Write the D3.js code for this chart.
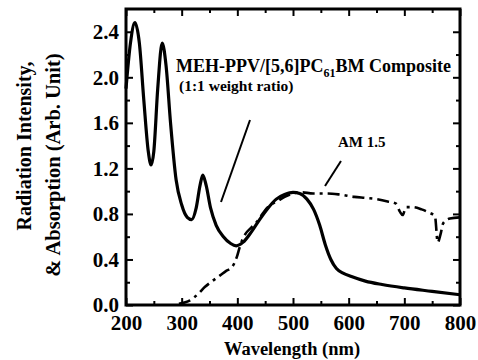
<!DOCTYPE html>
<html><head><meta charset="utf-8">
<script src="https://cdn.jsdelivr.net/npm/d3@7"></script>
<style>body{margin:0;background:#fff}svg{display:block}text{font-family:"Liberation Serif","Times New Roman",serif;font-weight:bold;fill:#000}</style>
</head><body><svg id="c" width="478" height="360"></svg>
<script>
const absWl  = [200,208,216,224,232,240,245,250,257,265,272,280,290,300,310,318,326,333,338,344,352,362,375,388,398,410,425,440,455,470,485,500,512,525,537,548,558,568,578,590,605,630,660,700,750,800];
const absVal = [1.9,2.3,2.48,2.3,1.8,1.35,1.23,1.35,1.9,2.3,2.1,1.6,1.1,0.88,0.77,0.75,0.85,1.05,1.14,1.05,0.85,0.7,0.6,0.54,0.52,0.55,0.64,0.75,0.85,0.93,0.97,0.99,0.98,0.93,0.84,0.7,0.53,0.4,0.32,0.28,0.25,0.21,0.18,0.15,0.12,0.09];
const amWl  = [295,315,330,342,355,369,380,390,399,405,414,425,435,445,453,463,471,485,500,515,536,560,584,610,632,650,670,685,692,697,703,715,731,745,755,760,765,770,782,800];
const amVal = [0.01,0.04,0.1,0.16,0.21,0.26,0.3,0.33,0.42,0.52,0.62,0.68,0.73,0.8,0.85,0.89,0.91,0.95,0.98,0.99,0.98,0.98,0.97,0.95,0.94,0.93,0.91,0.89,0.82,0.79,0.86,0.86,0.84,0.81,0.78,0.55,0.62,0.72,0.76,0.77];
const xTicks = [200,300,400,500,600,700,800];
const yTicks = [0.0,0.4,0.8,1.2,1.6,2.0,2.4];

const svg = d3.select("#c");
const L=126,R=460,T=9,B=305;
const x = d3.scaleLinear().domain([200,800]).range([L,R]);
const y = d3.scaleLinear().domain([0,2.6]).range([B,T]);

const g = svg.append("g");
const line = d3.line().x(d=>x(d[0])).y(d=>y(d[1])).curve(d3.curveMonotoneX);
g.append("path").datum(d3.zip(amWl,amVal)).attr("d",line)
 .attr("fill","none").attr("stroke","#000").attr("stroke-width",2.6)
 .attr("stroke-dasharray","12,5,3,5");
g.append("path").datum(d3.zip(absWl,absVal)).attr("d",line)
 .attr("fill","none").attr("stroke","#000").attr("stroke-width",3.2).attr("stroke-linejoin","round");

function ax(axisGen, tr){
  const a = svg.append("g").attr("transform",tr).call(axisGen);
  a.select(".domain").remove();
  a.selectAll("line").attr("stroke","#000").attr("stroke-width",2);
  return a;
}
const minorX = d3.range(250,800,100), minorY = d3.range(0.2,2.6,0.4);
const bx = ax(d3.axisBottom(x).tickValues(xTicks).tickSize(-7).tickPadding(10).tickFormat(d3.format("d")),`translate(0,${B})`);
bx.selectAll("text").attr("font-size",21).attr("dy","0.71em");
ax(d3.axisBottom(x).tickValues(minorX).tickSize(-4).tickFormat(""),`translate(0,${B})`);
ax(d3.axisTop(x).tickValues(xTicks).tickSize(-7).tickFormat(""),`translate(0,${T})`);
ax(d3.axisTop(x).tickValues(minorX).tickSize(-4).tickFormat(""),`translate(0,${T})`);
const ly = ax(d3.axisLeft(y).tickValues(yTicks).tickSize(-7).tickPadding(7).tickFormat(d3.format(".1f")),`translate(${L},0)`);
ly.selectAll("text").attr("font-size",21);
ax(d3.axisLeft(y).tickValues(minorY).tickSize(-4).tickFormat(""),`translate(${L},0)`);
ax(d3.axisRight(y).tickValues(yTicks).tickSize(-7).tickFormat(""),`translate(${R},0)`);
ax(d3.axisRight(y).tickValues(minorY).tickSize(-4).tickFormat(""),`translate(${R},0)`);
svg.selectAll(".tick text").attr("font-family",null);

svg.append("rect").attr("x",L).attr("y",T).attr("width",R-L).attr("height",B-T)
 .attr("fill","none").attr("stroke","#000").attr("stroke-width",3);

const t1 = svg.append("text").attr("x",176).attr("y",72).attr("font-size",18);
t1.append("tspan").text("MEH-PPV/[5,6]PC");
t1.append("tspan").attr("font-size",12).attr("dy",5).text("61");
t1.append("tspan").attr("dy",-5).text("BM Composite");
svg.append("text").attr("x",179).attr("y",91).attr("font-size",15.5).text("(1:1 weight ratio)");
svg.append("text").attr("x",338).attr("y",147).attr("font-size",15).text("AM 1.5");
svg.append("line").attr("x1",250).attr("y1",120).attr("x2",221).attr("y2",202).attr("stroke","#000").attr("stroke-width",2);
svg.append("line").attr("x1",341).attr("y1",161).attr("x2",325).attr("y2",186).attr("stroke","#000").attr("stroke-width",2);

svg.append("text").attr("x",292).attr("y",355).attr("text-anchor","middle").attr("font-size",18.5).text("Wavelength (nm)");
svg.append("text").attr("transform","translate(31,146) rotate(-90)").attr("text-anchor","middle").attr("font-size",20).text("Radiation Intensity,");
svg.append("text").attr("transform","translate(60,165) rotate(-90)").attr("text-anchor","middle").attr("font-size",20.5).text("& Absorption (Arb. Unit)");
</script></body></html>
